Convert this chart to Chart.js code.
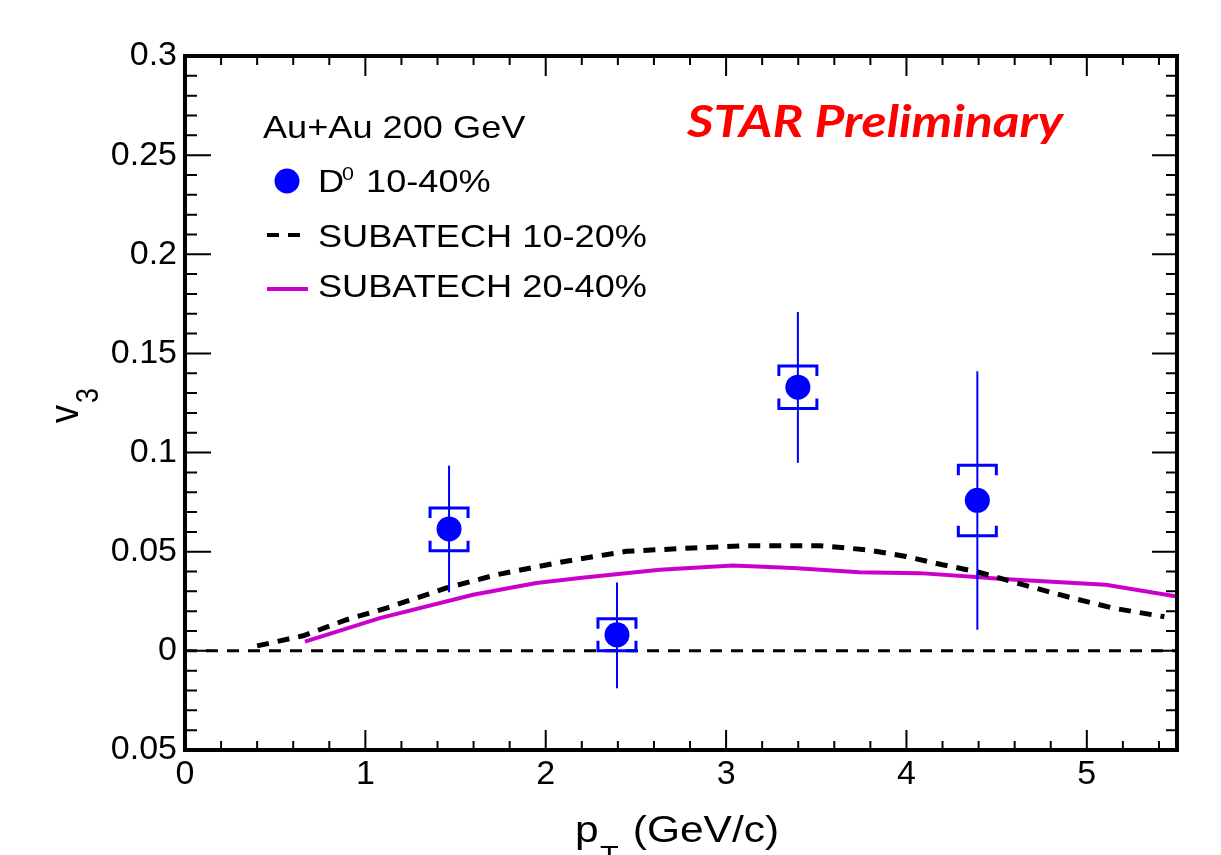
<!DOCTYPE html>
<html>
<head>
<meta charset="utf-8">
<script src="https://cdn.jsdelivr.net/npm/chart.js@4.4.0/dist/chart.umd.min.js"></script>
<style>
  html, body { margin: 0; padding: 0; background: #fff; }
  canvas { display: block; }
</style>
</head>
<body>
<canvas id="myChart" width="1221" height="855"></canvas>
<script>
// D0 v3 measurement, 10-40%
const d0Pt = [1.464, 2.395, 3.398, 4.393];
const d0V3 = [0.0615, 0.0081, 0.133, 0.0759];
const d0StatLo = [0.0295, -0.0189, 0.0948, 0.0106];
const d0StatHi = [0.0934, 0.0345, 0.1709, 0.141];
const d0SysLo = [0.0505, 0.0, 0.1222, 0.0581];
const d0SysHi = [0.0721, 0.0162, 0.1436, 0.0936];

// SUBATECH model curves
const sub1020Pt = [0.40, 0.655, 0.896, 1.117, 1.45, 1.727, 2.105, 2.447, 2.816, 3.11, 3.518, 3.777, 3.998, 4.2, 4.386, 4.681, 4.921, 5.143, 5.43];
const sub1020V3 = [0.0025, 0.0076, 0.0157, 0.0216, 0.0317, 0.0384, 0.0451, 0.0502, 0.0519, 0.053, 0.053, 0.051, 0.0476, 0.0434, 0.040, 0.0325, 0.0266, 0.0216, 0.0172];
const sub2040Pt = [0.665, 1.08, 1.597, 1.948, 2.188, 2.632, 3.038, 3.37, 3.74, 4.072, 4.386, 4.534, 5.105, 5.5];
const sub2040V3 = [0.0047, 0.0165, 0.0283, 0.0342, 0.0367, 0.0409, 0.0431, 0.0418, 0.0397, 0.0392, 0.0372, 0.0362, 0.0333, 0.0274];

// zero reference line
const zeroX = [0, 5.5];
const zeroY = [0, 0];

// tick labels as printed
const xTickLabels = ['0', '1', '2', '3', '4', '5'];
const yTickLabels = ['0.05', '0', '0.05', '0.1', '0.15', '0.2', '0.25', '0.3'];

const legendHeader = 'Au+Au 200 GeV';
const starLabel = 'STAR Preliminary';
const xTitle = ['p', 'T', ' (GeV/c)'];
const yTitle = ['v', '3'];

const FONT = '"Liberation Sans", Arial, Helvetica, sans-serif';
const SX = 1.13; // text in the picture is a bit wide

const toXY = (xs, ys) => xs.map((x, i) => ({ x: x, y: ys[i] }));

function wideText(c, text, x, y, font, sx) {
  c.save();
  c.translate(x, y);
  c.scale(sx, 1);
  c.font = font;
  c.fillText(text, 0, 0);
  const w = c.measureText(text).width * sx;
  c.restore();
  return w;
}

// error bars and systematic brackets
const errorBars = {
  id: 'errorBars',
  beforeDatasetDraw(chart, args) {
    if (args.index !== 0) return;
    const c = chart.ctx, xs = chart.scales.x, ys = chart.scales.y;
    c.save();
    c.strokeStyle = '#0000ff';
    for (let i = 0; i < d0Pt.length; i++) {
      const px = xs.getPixelForValue(d0Pt[i]);
      c.lineWidth = 2;
      c.beginPath();
      c.moveTo(px, ys.getPixelForValue(d0StatLo[i]));
      c.lineTo(px, ys.getPixelForValue(d0StatHi[i]));
      c.stroke();
      const hw = 19, leg = 10;
      const top = ys.getPixelForValue(d0SysHi[i]);
      const bot = ys.getPixelForValue(d0SysLo[i]);
      c.lineWidth = 3;
      c.beginPath();
      c.moveTo(px - hw, top + leg); c.lineTo(px - hw, top); c.lineTo(px + hw, top); c.lineTo(px + hw, top + leg);
      c.moveTo(px - hw, bot - leg); c.lineTo(px - hw, bot); c.lineTo(px + hw, bot); c.lineTo(px + hw, bot - leg);
      c.stroke();
    }
    c.restore();
  }
};

// ROOT style frame with inward ticks
const rootFrame = {
  id: 'rootFrame',
  afterDatasetsDraw(chart) {
    const c = chart.ctx, a = chart.chartArea, xs = chart.scales.x, ys = chart.scales.y;
    c.save();
    c.strokeStyle = '#000';
    c.lineWidth = 2;
    c.beginPath();
    for (let i = 0; i <= 27; i++) {
      const v = i * 0.2;
      const px = xs.getPixelForValue(v);
      const major = i % 5 === 0;
      const len = major ? 20 : 9;
      c.moveTo(px, a.bottom); c.lineTo(px, a.bottom - len);
      c.moveTo(px, a.top); c.lineTo(px, a.top + len);
    }
    for (let i = -5; i <= 30; i++) {
      const py = ys.getPixelForValue(i * 0.01);
      const major = i % 5 === 0;
      c.moveTo(a.left, py); c.lineTo(a.left + (major ? 26 : 12), py);
      c.moveTo(a.right, py); c.lineTo(a.right - (major ? 25 : 11), py);
    }
    c.stroke();
    c.lineWidth = 4;
    c.strokeRect(a.left, a.top, a.right - a.left, a.bottom - a.top);
    c.restore();
  },
  afterDraw(chart) {
    const c = chart.ctx, ds = chart.data.datasets;
    c.save();
    c.textAlign = 'left';
    c.textBaseline = 'alphabetic';
    c.fillStyle = '#000';

    // legend
    wideText(c, legendHeader, 263, 138, '32px ' + FONT, SX);
    c.fillStyle = ds[0].backgroundColor;
    c.beginPath(); c.arc(287, 181, 12.5, 0, 2 * Math.PI); c.fill();
    c.fillStyle = '#000';
    wideText(c, 'D', 318, 192, '32px ' + FONT, SX);
    wideText(c, '0', 342, 180, '19px ' + FONT, SX);
    wideText(c, ' 10-40%', 356, 192, '32px ' + FONT, SX);

    c.strokeStyle = ds[1].borderColor;
    c.lineWidth = 4;
    c.setLineDash(ds[1].borderDash);
    c.beginPath(); c.moveTo(267, 235); c.lineTo(300, 235); c.stroke();
    c.setLineDash([]);
    wideText(c, ds[1].label, 318, 247, '32px ' + FONT, SX);

    c.strokeStyle = ds[2].borderColor;
    c.lineWidth = 4;
    c.beginPath(); c.moveTo(267, 289); c.lineTo(308, 289); c.stroke();
    wideText(c, ds[2].label, 318, 297, '32px ' + FONT, SX);

    // STAR Preliminary
    c.fillStyle = '#ff0000';
    c.font = 'italic bold 44px Lato, "Open Sans", sans-serif';
    const sw = c.measureText(starLabel).width;
    wideText(c, starLabel, 687, 137, c.font, 376 / sw);

    // axis titles
    c.fillStyle = '#000';
    wideText(c, xTitle[0], 575, 842, '36px ' + FONT, 1.18);
    wideText(c, xTitle[1], 600, 864, '26px ' + FONT, 1.18);
    wideText(c, xTitle[2], 621, 842, '36px ' + FONT, 1.18);

    c.save();
    c.translate(78, 423);
    c.rotate(-Math.PI / 2);
    c.scale(1, SX);
    c.font = '36px ' + FONT;
    c.fillText(yTitle[0], 0, 0);
    const vw = c.measureText(yTitle[0]).width;
    c.font = '27px ' + FONT;
    c.fillText(yTitle[1], vw + 2, 18);
    c.restore();

    c.restore();
  }
};

const ctx = document.getElementById('myChart');

new Chart(ctx, {
  type: 'scatter',
  data: {
    datasets: [{
      label: 'D0 10-40%',
      data: toXY(d0Pt, d0V3),
      backgroundColor: '#0000ff',
      borderColor: '#0000ff',
      pointRadius: 12.5,
      pointHoverRadius: 12.5,
      borderWidth: 0,
      showLine: false,
      order: 0
    }, {
      label: 'SUBATECH 10-20%',
      data: toXY(sub1020Pt, sub1020V3),
      showLine: true,
      borderColor: '#000000',
      borderWidth: 5,
      borderDash: [12, 9],
      pointRadius: 0,
      tension: 0,
      order: 1
    }, {
      label: 'SUBATECH 20-40%',
      data: toXY(sub2040Pt, sub2040V3),
      showLine: true,
      borderColor: '#cc00cc',
      borderWidth: 4,
      pointRadius: 0,
      tension: 0,
      order: 2
    }, {
      label: 'zero',
      data: toXY(zeroX, zeroY),
      showLine: true,
      borderColor: '#000000',
      borderWidth: 3,
      borderDash: [12, 9],
      pointRadius: 0,
      order: 3
    }]
  },
  options: {
    responsive: false,
    animation: false,
    devicePixelRatio: 1,
    events: [],
    layout: { padding: { top: 56, right: 44, left: 0, bottom: 0 } },
    plugins: {
      legend: { display: false },
      tooltip: { enabled: false }
    },
    scales: {
      x: {
        type: 'linear',
        min: 0,
        max: 5.5,
        grid: { display: false, drawTicks: false },
        border: { display: false },
        ticks: {
          stepSize: 1,
          includeBounds: false,
          autoSkip: false,
          maxRotation: 0,
          padding: 4,
          color: '#000',
          font: { family: FONT, size: 34 },
          callback: (v, i) => xTickLabels[i]
        },
        afterFit: s => { s.height = 105; }
      },
      y: {
        min: -0.05,
        max: 0.3,
        grid: { display: false, drawTicks: false },
        border: { display: false },
        ticks: {
          stepSize: 0.05,
          includeBounds: false,
          autoSkip: false,
          padding: 8,
          color: '#000',
          font: { family: FONT, size: 34 },
          callback: (v, i) => yTickLabels[i]
        },
        afterFit: s => { s.width = 185; }
      }
    }
  },
  plugins: [errorBars, rootFrame]
});
</script>
</body>
</html>
